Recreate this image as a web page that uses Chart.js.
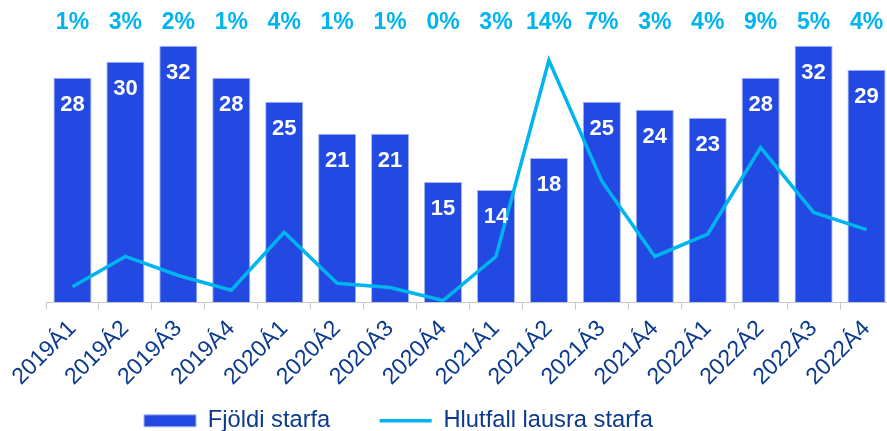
<!DOCTYPE html>
<html>
<head>
<meta charset="utf-8">
<script src="https://cdn.jsdelivr.net/npm/chart.js@4"></script>
<style>
  body { margin: 0; background: #fff; overflow: hidden; }
  /* the original chart is cut off a few pixels on the right */
  #wrap { width: 893px; height: 431px; }
</style>
</head>
<body>
<div id="wrap"><canvas id="jobsChart"></canvas></div>
<script>
const categories = ["2019Á1", "2019Á2", "2019Á3", "2019Á4", "2020Á1", "2020Á2", "2020Á3", "2020Á4",
    "2021Á1", "2021Á2", "2021Á3", "2021Á4", "2022Á1", "2022Á2", "2022Á3", "2022Á4"];
const jobCount = [28, 30, 32, 28, 25, 21, 21, 15, 14, 18, 25, 24, 23, 28, 32, 29];
const vacancyRate = [0.9, 2.65, 1.55, 0.7, 4.05, 1.1, 0.85, 0.1, 2.65, 14.0, 7.0, 2.65, 3.95, 8.95, 5.2, 4.2];

const BLUE = "#2249e1";
const CYAN = "#00b4f0";
const NAVY = "#0b3a8e";
const FONT = "'Liberation Sans', Arial, sans-serif";

const labelsPlugin = {
    id: "valueLabels",
    afterUpdate(chart) {
        // legend sits left of centre in the original
        const lg = chart.legend;
        const h = lg.bottom - lg.top;
        lg.left = 142;
        lg.top = 407;
        lg.bottom = lg.top + h;
    },
    afterDatasetsDraw(chart) {
        const ctx = chart.ctx;
        const x = chart.scales.x;
        ctx.save();
        ctx.textAlign = "center";
        ctx.textBaseline = "middle";

        // bar values inside bars
        ctx.font = "bold 22px " + FONT;
        ctx.fillStyle = "#ffffff";
        chart.getDatasetMeta(1).data.forEach((bar, i) => {
            ctx.fillText(jobCount[i], bar.x, bar.y + 27);
        });

        // percent row on top
        ctx.font = "bold 23px " + FONT;
        ctx.fillStyle = CYAN;
        vacancyRate.forEach((v, i) => {
            ctx.fillText(Math.round(v) + "%", x.getPixelForValue(i), 23);
        });
        ctx.restore();
    },
};

new Chart(document.getElementById("jobsChart"), {
    data: {
        labels: categories,
        datasets: [
            {
                type: "line",
                label: "Hlutfall lausra starfa",
                data: vacancyRate,
                yAxisID: "y1",
                borderColor: CYAN,
                backgroundColor: CYAN,
                borderWidth: 3.5,
                pointRadius: 0,
                pointStyle: "line",
                tension: 0,
                order: 0,
            },
            {
                type: "bar",
                label: "Fjöldi starfa",
                data: jobCount,
                yAxisID: "y",
                backgroundColor: BLUE,
                borderColor: "#a9b6f0",
                borderWidth: 1,
                barPercentage: 0.72,
                categoryPercentage: 1,
                pointStyle: "rect",
                order: 1,
            },
        ],
    },
    options: {
        responsive: true,
        maintainAspectRatio: false,
        animation: false,
        layout: {
            padding: { left: 46, right: 0, top: 36, bottom: 0 },
        },
        plugins: {
            tooltip: { enabled: false },
            legend: {
                position: "bottom",
                align: "start",
                reverse: true,
                labels: {
                    usePointStyle: true,
                    pointStyleWidth: 52,
                    boxHeight: 12,
                    padding: 2,
                    color: NAVY,
                    font: { family: FONT, size: 23.7 },
                    generateLabels(chart) {
                        const items = Chart.defaults.plugins.legend.labels.generateLabels(chart);
                        items.forEach((it) => {
                            if (it.datasetIndex === 1) it.text = it.text + "\u2003\u2003";
                        });
                        return items;
                    },
                },
            },
        },
        scales: {
            x: {
                afterFit(scale) {
                    scale.paddingLeft = 0;
                    scale.paddingRight = 0;
                    scale.height = 93;
                },
                grid: {
                    offset: true,
                    drawOnChartArea: false,
                    tickLength: 7,
                    color: "#c8c8c8",
                },
                border: { color: "#c8c8c8", width: 1 },
                ticks: {
                    minRotation: 45,
                    maxRotation: 45,
                    color: NAVY,
                    padding: 6,
                    font: { family: FONT, size: 23 },
                },
            },
            y: {
                display: false,
                min: 0,
                max: 33.2,
            },
            y1: {
                display: false,
                min: 0,
                max: 15.4,
            },
        },
    },
    plugins: [labelsPlugin],
});
</script>
</body>
</html>
